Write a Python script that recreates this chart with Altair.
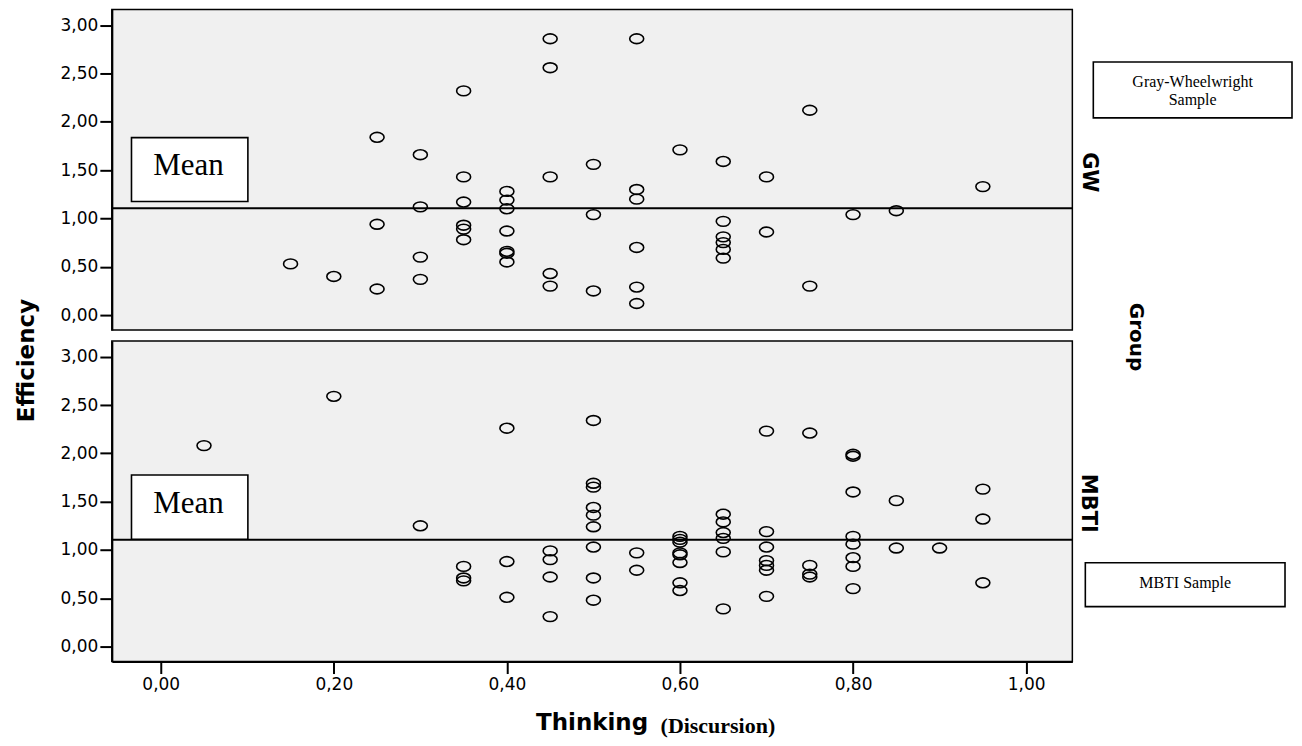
import altair as alt
import pandas as pd

# ---------------- data ----------------
gw_thinking = [0.15, 0.20,
               0.25, 0.25, 0.25,
               0.30, 0.30, 0.30, 0.30,
               0.35, 0.35, 0.35, 0.35, 0.35, 0.35,
               0.40, 0.40, 0.40, 0.40, 0.40, 0.40, 0.40,
               0.45, 0.45, 0.45, 0.45, 0.45,
               0.50, 0.50, 0.50,
               0.55, 0.55, 0.55, 0.55, 0.55, 0.55,
               0.60,
               0.65, 0.65, 0.65, 0.65, 0.65, 0.65,
               0.70, 0.70,
               0.75, 0.75,
               0.80, 0.85, 0.95]
gw_efficiency = [0.53, 0.40,
                 1.84, 0.94, 0.27,
                 1.66, 1.12, 0.60, 0.37,
                 2.32, 1.43, 1.17, 0.93, 0.89, 0.78,
                 1.28, 1.19, 1.10, 0.87, 0.66, 0.64, 0.55,
                 2.86, 2.56, 1.43, 0.43, 0.30,
                 1.56, 1.04, 0.25,
                 2.86, 1.30, 1.20, 0.70, 0.29, 0.12,
                 1.71,
                 1.59, 0.97, 0.81, 0.75, 0.68, 0.59,
                 1.43, 0.86,
                 2.12, 0.30,
                 1.04, 1.08, 1.33]

mbti_thinking = [0.05, 0.20, 0.30,
                 0.35, 0.35, 0.35,
                 0.40, 0.40, 0.40,
                 0.45, 0.45, 0.45, 0.45,
                 0.50, 0.50, 0.50, 0.50, 0.50, 0.50, 0.50, 0.50, 0.50,
                 0.55, 0.55,
                 0.60, 0.60, 0.60, 0.60, 0.60, 0.60, 0.60, 0.60,
                 0.65, 0.65, 0.65, 0.65, 0.65, 0.65,
                 0.70, 0.70, 0.70, 0.70, 0.70, 0.70, 0.70,
                 0.75, 0.75, 0.75, 0.75,
                 0.80, 0.80, 0.80, 0.80, 0.80, 0.80, 0.80, 0.80,
                 0.85, 0.85,
                 0.90,
                 0.95, 0.95, 0.95]
mbti_efficiency = [2.08, 2.59, 1.25,
                   0.83, 0.71, 0.68,
                   2.26, 0.88, 0.51,
                   0.99, 0.90, 0.72, 0.31,
                   2.34, 1.69, 1.65, 1.44, 1.36, 1.24, 1.03, 0.71, 0.48,
                   0.97, 0.79,
                   1.14, 1.11, 1.08, 0.97, 0.95, 0.87, 0.66, 0.58,
                   1.37, 1.29, 1.18, 1.12, 0.98, 0.39,
                   2.23, 1.19, 1.03, 0.89, 0.84, 0.79, 0.52,
                   2.21, 0.84, 0.75, 0.72,
                   1.99, 1.97, 1.60, 1.14, 1.06, 0.92, 0.83, 0.60,
                   1.51, 1.02,
                   1.02,
                   1.63, 1.32, 0.66]

mean_efficiency = 1.105
x_tick_values = [0.0, 0.2, 0.4, 0.6, 0.8, 1.0]
y_tick_values = [0.0, 0.5, 1.0, 1.5, 2.0, 2.5, 3.0]
group_labels = ["GW", "MBTI"]
sample_labels = ["Gray-Wheelwright", "Sample", "MBTI Sample"]

# ---------------- layout / styling ----------------
W, H = 962, 321
x_domain = [-0.0565, 1.0534]
y_domain = [-0.155, 3.162]
ELLIPSE = "M-1,0A1,0.7,0,1,0,1,0A1,0.7,0,1,0,-1,0Z"
COMMA = "replace(format(datum.value, '.2f'), '.', ',')"
SANS = "DejaVu Sans"
SERIF = "Liberation Serif"

xs = alt.Scale(domain=x_domain, nice=False, zero=False)
ys = alt.Scale(domain=y_domain, nice=False, zero=False)

y_axis = alt.Axis(values=y_tick_values, labelExpr=COMMA, title=None, grid=False,
                  tickSize=12, tickWidth=2, tickColor="black",
                  domainColor="black", domainWidth=2,
                  labelFont=SANS, labelFontSize=17, labelColor="black", labelPadding=2)
x_axis = alt.Axis(values=x_tick_values, labelExpr=COMMA, title=None, grid=False,
                  tickSize=12, tickWidth=2, tickColor="black",
                  domainColor="black", domainWidth=2,
                  labelFont=SANS, labelFontSize=17, labelColor="black", labelPadding=3)


def panel(xv, yv, show_x, label, mean_box, mean_text_y, extras):
    xa = x_axis if show_x else None
    df = pd.DataFrame({"thinking": xv, "efficiency": yv})
    pts = alt.Chart(df).mark_point(shape=ELLIPSE, filled=False, size=196,
                                   stroke="black", strokeWidth=1.6, opacity=1).encode(
        x=alt.X("thinking:Q", scale=xs, axis=xa),
        y=alt.Y("efficiency:Q", scale=ys, axis=y_axis),
    )
    rule = alt.Chart(pd.DataFrame({"efficiency": [mean_efficiency]})).mark_rule(
        color="black", strokeWidth=2).encode(
        y=alt.Y("efficiency:Q", scale=ys, axis=y_axis))
    box_df = pd.DataFrame({"thinking": [mean_box[0]], "t2": [mean_box[1]],
                           "efficiency": [mean_box[2]], "e2": [mean_box[3]]})
    box = alt.Chart(box_df).mark_rect(fill="white", stroke="black", strokeWidth=1.6).encode(
        x=alt.X("thinking:Q", scale=xs, axis=xa), x2="t2:Q",
        y=alt.Y("efficiency:Q", scale=ys, axis=y_axis), y2="e2:Q")
    mtxt = alt.Chart(pd.DataFrame({"thinking": [0.032], "efficiency": [mean_text_y],
                                   "t": ["Mean"]})).mark_text(
        font=SERIF, fontSize=31, color="black", baseline="middle", align="center").encode(
        x=alt.X("thinking:Q", scale=xs, axis=xa),
        y=alt.Y("efficiency:Q", scale=ys, axis=y_axis), text="t:N")
    glabel = alt.Chart(pd.DataFrame({"t": [label[0]]})).mark_text(
        font=SANS, fontWeight="bold", fontSize=21, angle=90, color="black",
        align="center", baseline="middle").encode(
        x=alt.value(label[1]), y=alt.value(label[2]), text="t:N")
    layers = [pts, rule, box, mtxt, glabel] + extras
    return alt.layer(*layers).properties(width=W, height=H)


def free_text(t, x, y, font, size, weight="normal", angle=0, baseline="middle"):
    return alt.Chart(pd.DataFrame({"t": [t]})).mark_text(
        font=font, fontSize=size, fontWeight=weight, angle=angle, color="black",
        align="center", baseline=baseline).encode(x=alt.value(x), y=alt.value(y), text="t:N")


def free_box(x1, x2, y1, y2):
    return alt.Chart(pd.DataFrame({"a": [0]})).mark_rect(
        fill="white", stroke="black", strokeWidth=1.6).encode(
        x=alt.value(x1), x2=alt.value(x2), y=alt.value(y1), y2=alt.value(y2))


top_extras = [
    free_box(983, 1182, 52.5, 108.5),
    free_text(sample_labels[0], 1082.5, 72.5, SERIF, 16),
    free_text(sample_labels[1], 1082.5, 90.5, SERIF, 16),
    free_text("Efficiency", -85, 351.5, SANS, 23, "bold", 270),
    free_text("Group", 1026, 328, SANS, 20, "bold", 90),
]
bottom_extras = [
    free_box(975, 1175, 222, 266),
    free_text(sample_labels[2], 1075, 242, SERIF, 16),
    free_text("Thinking", 481, 390, SANS, 23, "bold", 0, "alphabetic"),
    free_text("(Discursion)", 607, 393, SERIF, 22, "bold", 0, "alphabetic"),
]

top = panel(gw_thinking, gw_efficiency, False, (group_labels[0], 978.5, 163),
            (-0.0338, 0.1007, 1.837, 1.176), 1.538, top_extras)
bottom = panel(mbti_thinking, mbti_efficiency, True, (group_labels[1], 978, 162.5),
               (-0.0338, 0.1007, 1.776, 1.111), 1.474, bottom_extras)

chart = alt.vconcat(top, bottom, spacing=11, bounds="flush",
                    padding={"left": 7, "top": 0, "right": 0, "bottom": 0}).configure(
    background="white").configure_view(
    stroke="black", strokeWidth=1.5, fill="#f0f0f0")

chart.save("out.html", embed_options={"renderer": "svg", "actions": False})
